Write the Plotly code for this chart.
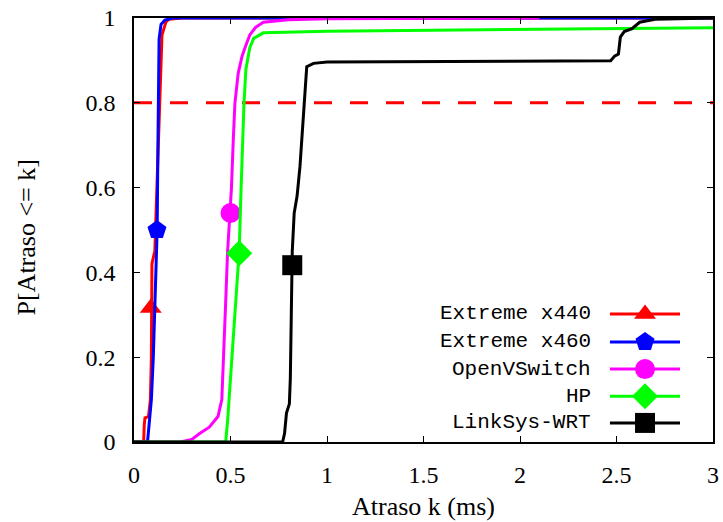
import plotly.graph_objects as go

# ---- data ----
series_names = ["Extreme x440", "Extreme x460", "OpenVSwitch", "HP", "LinkSys-WRT"]

x440_x = [0, 0.05, 0.053, 0.057, 0.075, 0.085, 0.09, 0.092, 0.093, 0.1, 0.108, 0.115, 0.125, 0.135, 0.14, 0.145, 0.155, 0.165, 0.18, 0.25, 3.0]
x440_y = [0, 0, 0.04, 0.057, 0.06, 0.1, 0.2, 0.35, 0.42, 0.435, 0.45, 0.55, 0.7, 0.8, 0.9, 0.96, 0.975, 0.99, 0.997, 1.0, 1.0]

x460_x = [0, 0.07, 0.08, 0.09, 0.1, 0.11, 0.12, 0.124, 0.127, 0.13, 0.14, 0.16, 0.2, 3.0]
x460_y = [0, 0, 0.05, 0.1, 0.2, 0.35, 0.5, 0.7, 0.85, 0.95, 0.985, 0.995, 1.0, 1.0]

ovs_x = [0, 0.24, 0.3, 0.34, 0.39, 0.435, 0.455, 0.465, 0.475, 0.485, 0.495, 0.505, 0.515, 0.523, 0.54, 0.56, 0.575, 0.6, 0.63, 0.67, 0.8, 1.0, 2.1]
ovs_y = [0, 0, 0.006, 0.02, 0.035, 0.06, 0.1, 0.2, 0.33, 0.45, 0.52, 0.6, 0.72, 0.8, 0.87, 0.91, 0.93, 0.96, 0.978, 0.99, 0.996, 0.998, 1.0]

hp_x = [0, 0.475, 0.485, 0.5, 0.515, 0.53, 0.545, 0.555, 0.562, 0.57, 0.58, 0.6, 0.62, 0.67, 1.0, 2.0, 3.0]
hp_y = [0, 0, 0.05, 0.15, 0.25, 0.35, 0.45, 0.6, 0.72, 0.8, 0.88, 0.93, 0.952, 0.965, 0.969, 0.973, 0.977]

lnk_x = [0, 0.77, 0.78, 0.79, 0.805, 0.81, 0.815, 0.82, 0.83, 0.845, 0.86, 0.875, 0.888, 0.895, 0.93, 1.0, 2.47, 2.49, 2.51, 2.52, 2.54, 2.58, 2.62, 2.7, 3.0]
lnk_y = [0, 0, 0.02, 0.068, 0.09, 0.15, 0.3, 0.45, 0.54, 0.58, 0.65, 0.75, 0.85, 0.885, 0.893, 0.896, 0.899, 0.91, 0.915, 0.955, 0.968, 0.975, 0.99, 0.997, 1.0]

# one highlighted marker point per curve
marker_x = [0.087, 0.119, 0.50, 0.545, 0.82]
marker_y = [0.316, 0.50, 0.54, 0.445, 0.417]

threshold = 0.8
x_ticks = [0, 0.5, 1, 1.5, 2, 2.5, 3]
x_ticklabels = ["0", "0.5", "1", "1.5", "2", "2.5", "3"]
y_ticks = [0, 0.2, 0.4, 0.6, 0.8, 1]
y_ticklabels = ["0", "0.2", "0.4", "0.6", "0.8", "1"]

colors = ["#ff0000", "#0000ff", "#ff00ff", "#00ff00", "#000000"]
symbols = ["triangle-up", "pentagon", "circle", "diamond", "square"]
msizes = [19, 20, 20, 20, 20]

curves_x = [x440_x, x460_x, ovs_x, hp_x, lnk_x]
curves_y = [x440_y, x460_y, ovs_y, hp_y, lnk_y]

fig = go.Figure()

# threshold line
fig.add_trace(go.Scatter(x=[0, 3], y=[threshold, threshold], mode="lines",
                         line=dict(color="#ff0000", width=3, dash="18px,18px"),
                         showlegend=False, hoverinfo="skip"))

for i in range(5):
    fig.add_trace(go.Scatter(x=curves_x[i], y=curves_y[i], mode="lines",
                             line=dict(color=colors[i], width=3),
                             name=series_names[i], showlegend=False))
    fig.add_trace(go.Scatter(x=[marker_x[i]], y=[marker_y[i]], mode="markers",
                             marker=dict(symbol=symbols[i], size=msizes[i], color=colors[i]),
                             showlegend=False, hoverinfo="skip"))

# custom gnuplot-style legend (text left, sample right) on an overlay axis
leg_rows = [0.302, 0.236, 0.172, 0.108, 0.045]
for i in range(5):
    fig.add_trace(go.Scatter(x=[0.822, 0.943], y=[leg_rows[i]] * 2, mode="lines",
                             line=dict(color=colors[i], width=3),
                             xaxis="x2", yaxis="y2", showlegend=False, hoverinfo="skip"))
    fig.add_trace(go.Scatter(x=[0.8826], y=[leg_rows[i]], mode="markers",
                             marker=dict(symbol=symbols[i], size=msizes[i], color=colors[i]),
                             xaxis="x2", yaxis="y2", showlegend=False, hoverinfo="skip"))
    fig.add_annotation(x=0.7927, y=leg_rows[i], xref="paper", yref="paper",
                       text=series_names[i], showarrow=False, xanchor="right", yanchor="middle",
                       font=dict(family="Liberation Mono", size=21, color="#000000"))

tick_font = dict(family="Liberation Serif", size=24, color="#000000")
axis_common = dict(showline=True, linecolor="#000000", linewidth=1.5, mirror="allticks",
                   ticks="inside", ticklen=6, tickcolor="#000000", tickwidth=1,
                   showgrid=False, zeroline=False, tickfont=tick_font, automargin=False)

fig.update_layout(
    width=723, height=522,
    margin=dict(l=134, r=10, t=18, b=80, autoexpand=False),
    paper_bgcolor="white", plot_bgcolor="white",
    xaxis=dict(range=[0, 3], tickvals=x_ticks, ticktext=x_ticklabels,
               ticklabelstandoff=10, **axis_common),
    yaxis=dict(range=[0, 1], tickvals=y_ticks, ticktext=y_ticklabels,
               ticklabelstandoff=12, **axis_common),
    xaxis2=dict(range=[0, 1], overlaying="x", visible=False, fixedrange=True),
    yaxis2=dict(range=[0, 1], overlaying="y", visible=False, fixedrange=True),
    showlegend=False,
)

fig.add_annotation(x=0.5, y=-0.152, xref="paper", yref="paper", text="Atraso k (ms)",
                   showarrow=False, xanchor="center", yanchor="middle",
                   font=dict(family="Liberation Serif", size=26, color="#000000"))
fig.add_annotation(x=-0.185, y=0.482, xref="paper", yref="paper", text="P[Atraso <= k]",
                   showarrow=False, xanchor="center", yanchor="middle", textangle=-90,
                   font=dict(family="Liberation Serif", size=26, color="#000000"))

fig.write_html("out.html", config={"displayModeBar": False},
               post_script="document.body.style.margin='0';document.body.style.overflow='hidden';")
